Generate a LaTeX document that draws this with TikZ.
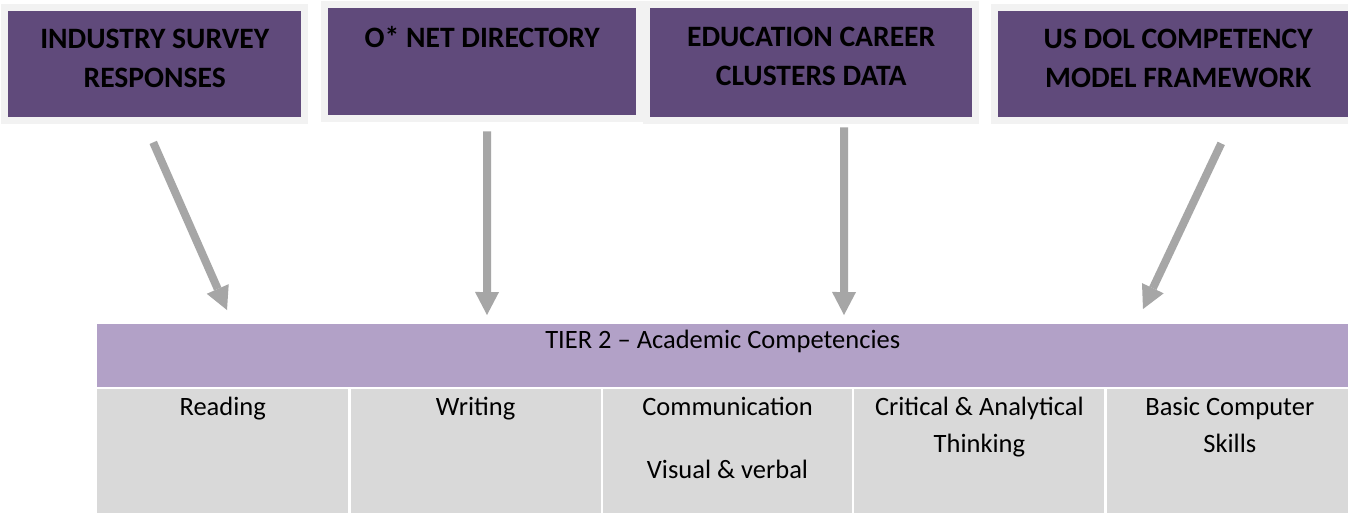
\documentclass[tikz,border=0pt]{standalone}
\usepackage{xcolor}
\usepackage{fontspec}
\setmainfont{Carlito}
\usepackage{tikz}
\usetikzlibrary{arrows.meta, positioning}
\definecolor{srcpurple}{RGB}{96, 74, 123}
\definecolor{tierpurple}{RGB}{178, 161, 199}
\definecolor{cellgray}{RGB}{217, 217, 217}
\definecolor{arrowgray}{RGB}{166, 166, 166}
\definecolor{framegray}{RGB}{242, 242, 242}

\begin{document}
\begin{tikzpicture}[x=1pt, y=-1pt,
            srcbox/.style={fill=srcpurple, preaction={draw=framegray, line width=14pt},
                  anchor=north west, inner sep=0pt},
            srctext/.style={anchor=base, text width=300pt, align=flush center,
                  font=\fontsize{29.6}{39.5}\selectfont\bfseries},
            cell/.style={fill=cellgray, anchor=north west, inner sep=0pt, minimum height=125pt},
            celltext/.style={anchor=base, text width=240pt, align=flush center,
                  font=\fontsize{26.5}{37.5}\selectfont},
            feed/.style={draw=arrowgray, line width=8pt,
                  -{Triangle[length=23pt, width=24pt, line width=0pt]}}]
            \useasboundingbox[fill=white] (0,0) rectangle (1348,512);

            % source boxes
            \node[srcbox, minimum width=293pt, minimum height=106pt] (survey) at (8,11) {};
            \node[srcbox, minimum width=308pt, minimum height=107pt] (onet) at (328,8) {};
            \node[srcbox, minimum width=322pt, minimum height=109pt] (clusters) at (650,8) {};
            \node[srcbox, minimum width=360pt, minimum height=106pt] (doldol) at (998,11) {};

            \node[srctext] (surveytxt) at ([yshift=-37pt]survey.north) {INDUSTRY SURVEY\\RESPONSES};
            \node[srctext] (onettxt) at ([yshift=-39pt]onet.north) {O* NET DIRECTORY};
            \node[srctext] (clusterstxt) at ([yshift=-38pt]clusters.north) {EDUCATION CAREER\\CLUSTERS DATA};
            \node[srctext] (doltxt) at ([yshift=-37pt]doldol.north) {US DOL COMPETENCY\\MODEL FRAMEWORK};

            % tier 2 table
            \node[fill=tierpurple, anchor=north west, inner sep=0pt,
                  minimum width=1260pt, minimum height=63pt] (tier) at (97,324) {};
            \node[anchor=base, font=\fontsize{26.5}{37.5}\selectfont] (tiertxt)
                  at ([xshift=-4.5pt, yshift=-24pt]tier.north) {TIER 2 -- Academic Competencies};

            \node[cell, minimum width=251pt] (reading) at (97,389) {};
            \node[cell, minimum width=250pt, right=2pt of reading] (writing) {};
            \node[cell, minimum width=249pt, right=2pt of writing] (comm) {};
            \node[cell, minimum width=250pt, right=2pt of comm] (thinking) {};
            \node[cell, minimum width=250pt, right=2pt of thinking] (computer) {};

            \node[celltext] (readingtxt) at ([yshift=-26pt]reading.north) {Reading};
            \node[celltext] (writingtxt) at ([yshift=-26pt]writing.north) {Writing};
            \node[celltext] (commtxt) at ([yshift=-26pt]comm.north) {Communication\\[25.5pt]Visual \& verbal};
            \node[celltext] (thinkingtxt) at ([yshift=-26pt]thinking.north) {Critical \& Analytical\\Thinking};
            \node[celltext] (computertxt) at ([xshift=-2pt, yshift=-26pt]computer.north) {Basic Computer\\Skills};

            % feeds into tier 2
            \draw[feed] ([xshift=-1.5pt, yshift=-25pt]survey.south) -- ([xshift=130pt, yshift=14pt]tier.north west);
            \draw[feed] ([xshift=5pt, yshift=-16pt]onet.south) -- ([xshift=390pt, yshift=9pt]tier.north west);
            \draw[feed] ([xshift=33pt, yshift=-10pt]clusters.south) -- ([xshift=747pt, yshift=9pt]tier.north west);
            \draw[feed] ([xshift=43pt, yshift=-26pt]doldol.south) -- ([xshift=1046pt, yshift=15pt]tier.north west);
        \end{tikzpicture}
\end{document}
